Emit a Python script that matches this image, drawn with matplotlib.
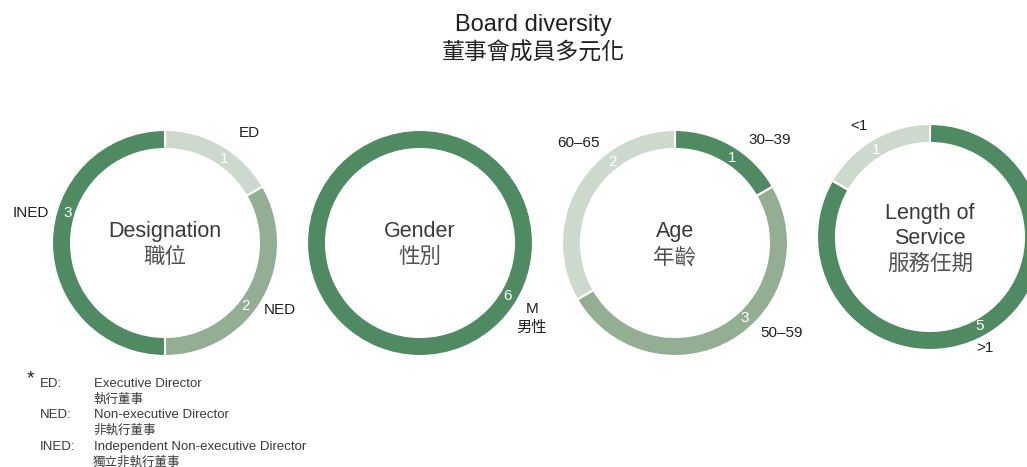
import matplotlib
matplotlib.use("Agg")
import numpy as np
from matplotlib import pyplot as plt

LATIN = ['Liberation Sans', 'DejaVu Sans']
CJK = ['Noto Sans CJK TC', 'DejaVu Sans']
plt.rcParams['font.family'] = LATIN

DARK = '#4f8a63'
MID = '#94ae94'
LIGHT = '#cdd9cc'
INK = '#231f20'
GREY = '#3d3838'

# data: one list of values per donut (clockwise from 12 o'clock)
designation_labels = ['ED', 'NED', 'INED']
designation_values = [1, 2, 3]
gender_labels = ['M\n男性']
gender_values = [6]
age_labels = ['30–39', '50–59', '60–65']
age_values = [1, 3, 2]
service_labels = ['>1', '<1']
service_values = [5, 1]


def fam(s):
    return CJK if any(ord(c) > 0x2e80 for c in s) else LATIN


def lines(x, y, s, step):
    # stacked lines centred on y (pixels, downward)
    parts = s.split('\n')
    y0 = y - step * (len(parts) - 1) / 2
    return [(x, y0 + i * step, p) for i, p in enumerate(parts)]


donuts = [
    dict(title='Designation\n職位', labels=designation_labels, values=designation_values,
         colors=[LIGHT, MID, DARK], center=(165, 243),
         num_ang=[35, 128, 287],
         lab_xy=[(249, 133, 'center'), (280, 310, 'center'), (49, 213, 'right')]),
    dict(title='Gender\n性別', labels=gender_labels, values=gender_values,
         colors=[DARK], center=(420, 243),
         num_ang=[121],
         lab_xy=[(532, 318, 'center')]),
    dict(title='Age\n年齡', labels=age_labels, values=age_values,
         colors=[DARK, MID, LIGHT], center=(675, 243),
         num_ang=[34, 137, 322],
         lab_xy=[(770, 140, 'center'), (782, 333, 'center'), (578, 143, 'center')]),
    dict(title='Length of\nService\n服務任期', labels=service_labels, values=service_values,
         colors=[DARK, LIGHT], center=(930, 237),
         num_ang=[151, 328],
         lab_xy=[(985, 348, 'center'), (859, 126, 'center')]),
]

W, H = 1027, 467
R = 113
fig = plt.figure(figsize=(W / 100, H / 100), dpi=100)


def ftext(px, py, s, **kw):
    fig.text(px / W, 1 - py / H, s, family=fam(s), **kw)


for d in donuts:
    cx, cy = d['center']
    ax = fig.add_axes([(cx - R) / W, (H - cy - R) / H, 2 * R / W, 2 * R / H])
    ax.pie(d['values'], colors=d['colors'], startangle=90, counterclock=False,
           radius=1, wedgeprops=dict(width=19 / R, edgecolor='white', linewidth=1.5))
    ax.set_xlim(-1, 1)
    ax.set_ylim(-1, 1)
    ax.set_aspect('equal')
    ax.axis('off')
    for v, a in zip(d['values'], d['num_ang']):
        t = np.deg2rad(a)
        ax.text(0.905 * np.sin(t), 0.905 * np.cos(t), str(v), ha='center', va='center',
                fontsize=11, color='white')
    # centre title, one text per line
    for x, y, p in lines(cx, cy + 1.5, d['title'], 25.5):
        ftext(x, y, p, ha='center', va='center', fontsize=15.5,
              color=GREY if fam(p) is LATIN else '#555050')
    for lab, (px, py, ha) in zip(d['labels'], d['lab_xy']):
        for x, y, p in lines(px, py, lab, 18):
            ftext(x, y, p, ha=ha, va='center', fontsize=11, color=INK)

ftext(533, 25, 'Board diversity', ha='center', va='center', fontsize=17, color=INK)
ftext(533, 53, '董事會成員多元化', ha='center', va='center', fontsize=16.5, color=INK)

# footnote
abbr = ['ED:', 'NED:', 'INED:']
full_en = ['Executive Director', 'Non-executive Director', 'Independent Non-executive Director']
full_zh = ['執行董事', '非執行董事', '獨立非執行董事']
ftext(27, 379, '*', ha='left', va='center', fontsize=14, color=INK)
for i, (a, en, zh) in enumerate(zip(abbr, full_en, full_zh)):
    y = 384 + i * 31.5
    ftext(40, y, a, ha='left', va='center', fontsize=9.5, color=GREY)
    ftext(94, y, en, ha='left', va='center', fontsize=9.5, color=GREY)
    ftext(93, y + 15, zh, ha='left', va='center', fontsize=9, color=GREY)

fig.savefig('out.png', dpi=100)
